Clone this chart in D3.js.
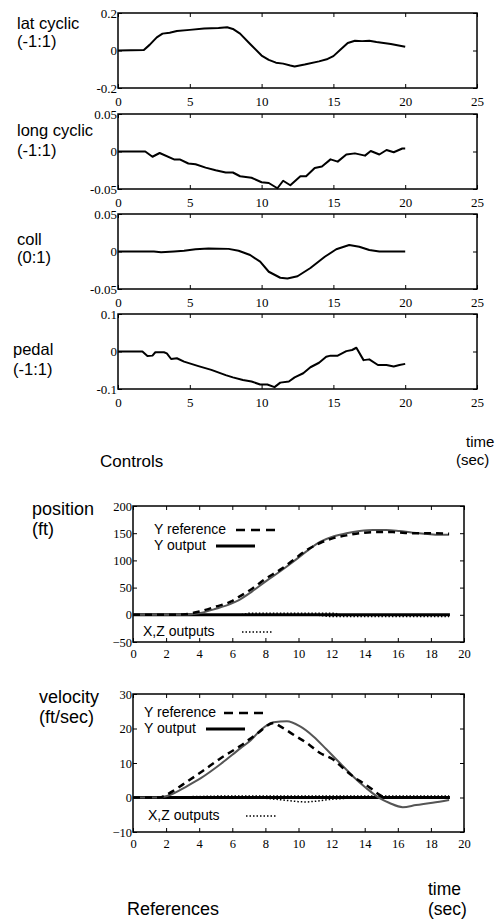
<!DOCTYPE html>
<html><head><meta charset="utf-8">
<script src="https://cdn.jsdelivr.net/npm/d3@7"></script>
<style>body{margin:0;background:#fff}svg{display:block}</style>
</head><body>
<script>
// ---------- DATA ----------
const ctrlTicksX = [0,5,10,15,20,25];
const latT = [0,1.8,2.2,2.7,3.1,3.6,4.1,5,6,7,7.6,8,8.5,9.2,10,10.5,11,11.5,12,12.3,13,14,14.6,15,15.5,16,16.5,17,17.5,18,19,20];
const latV = [0,0.003,0.03,0.07,0.09,0.095,0.104,0.11,0.117,0.12,0.124,0.115,0.09,0.035,-0.027,-0.05,-0.065,-0.07,-0.08,-0.085,-0.075,-0.058,-0.045,-0.03,0.005,0.04,0.052,0.05,0.052,0.045,0.035,0.02];
const longT = [0,1.9,2.4,2.9,3.9,4.3,4.9,5.4,6.1,6.8,7.5,8,8.5,8.9,9.3,10,10.5,11.1,11.5,12,12.7,13.1,13.7,14.2,14.8,15.3,15.9,16.5,17.2,17.6,18.2,18.7,19.2,19.8,20];
const longV = [0,0,-0.007,-0.002,-0.0105,-0.0105,-0.016,-0.017,-0.0215,-0.025,-0.028,-0.028,-0.033,-0.034,-0.035,-0.041,-0.042,-0.049,-0.039,-0.045,-0.033,-0.033,-0.022,-0.02,-0.0105,-0.0135,-0.004,-0.0025,-0.0055,0.0007,-0.004,0.002,-0.001,0.004,0.004];
const collT = [0,2.5,3,3.9,4.6,5.4,6.3,7.7,8.4,9.2,9.9,10.5,11.3,11.8,12.5,13.4,14.4,15.2,16.1,16.8,17.5,18.2,20];
const collV = [0,0,-0.001,0,0.001,0.003,0.004,0.0035,0.001,-0.0047,-0.0136,-0.027,-0.035,-0.036,-0.033,-0.022,-0.007,0.003,0.0087,0.0064,0.002,0,0];
const pedalT = [0,1.7,2.05,2.4,2.6,3.2,3.4,3.7,4.1,4.6,5.6,6.5,7.5,8,8.7,9.3,9.9,10.4,10.9,11.3,11.9,12.3,12.9,13.4,14,14.5,14.8,15.3,15.9,16.3,16.6,17.1,17.5,18.1,18.7,19.2,19.6,20];
const pedalV = [0,0,-0.012,-0.011,-0.002,-0.002,-0.005,-0.02,-0.018,-0.027,-0.039,-0.049,-0.063,-0.069,-0.076,-0.08,-0.088,-0.088,-0.095,-0.083,-0.08,-0.069,-0.058,-0.042,-0.03,-0.014,-0.011,-0.011,0.001,0.004,0.01,-0.023,-0.021,-0.036,-0.036,-0.04,-0.036,-0.033];

const refTicksX = [0,2,4,6,8,10,12,14,16,18,20];
const posTicksY = [-50,0,50,100,150,200];
const posRefT = [0,2,3,4,5,5.9,6.4,7.2,8,8.9,9.7,10.5,11.3,12.1,12.9,13.7,14.5,15.7,16.9,18,19.1];
const posRefV = [0,0,0.5,6,15,24,33,48,66,83,101,119,132,141,146,150,152,152,150,150,149];
const posOutT = [0,2,3,4,5,5.9,6.4,7.2,8,8.9,9.7,10.5,11.3,12.1,12.9,13.7,14.5,15.3,16.1,16.9,17.7,18.5,19.1];
const posOutV = [0,0,0.3,3,11,20,27,43,61,80,98,117,134,144,150,154,156,156,154,151,149,147,147];
const posXT = [0,6.5,7,12.2,12.5,19.1];
const posXV = [0,0,3,3,0,0];
const posZT = [0,11,11.8,19.1];
const posZV = [0,0,-3,-3];

const velTicksY = [-10,0,10,20,30];
const velRefT = [0,1.6,2.1,3.3,4.1,5.3,6.5,7.5,8.5,8.9,9.7,10.5,11.3,12.1,12.7,13.3,13.9,14.5,14.9,15.3,19.1];
const velRefV = [0,0,1,4.7,7.3,11.4,15,18.5,21.6,20.6,18.2,15.8,12.9,11,8.5,6.1,4.2,2.2,0.8,0,0];
const velOutT = [0,1.6,2.1,3.3,4.1,5.3,6.5,7.1,7.7,8.5,9.3,10.1,10.9,11.7,12.5,13.3,14.1,14.9,15.5,16.3,17.1,18.1,19.1];
const velOutV = [0,0,0.5,3.4,5.6,9.7,14.3,16.5,19.5,21.8,22.1,20.6,17.7,13.9,10,6.1,2.7,-0.2,-1.6,-2.8,-2.2,-1.5,-0.7];
const velXT = [0,7,8,9,10,10.5,11,12,13,14,19.1];
const velXV = [0,0,-0.2,-0.7,-1.2,-1.3,-1.1,-0.5,-0.2,0,0];
const velZT = [0,3,5,19.1];
const velZV = [0,0.2,0.4,0.4];

// ---------- DRAW ----------
const W = 497, H = 920;
const svg = d3.select("body").append("svg").attr("width", W).attr("height", H);
const SANS = "'Liberation Sans', Arial, sans-serif";
const SERIF = "'Liberation Serif', 'Times New Roman', serif";

function zip(t, v){ return t.map((d,i)=>[d, v[i]]); }

function frame(x, y, xt, yt, fs, padX, fmtY){
  const [x0,x1] = x.range(), [y0,y1] = y.range();
  const g = svg.append("g");
  const ax = (gen, tx, ty) => {
    const a = g.append("g").attr("transform", `translate(${tx},${ty})`).call(gen);
    a.select(".domain").remove();
    a.selectAll("line").attr("stroke","#000").attr("stroke-width",1);
    a.selectAll("text").attr("font-family", SERIF).attr("font-size", fs).attr("fill","#000");
    return a;
  };
  ax(d3.axisBottom(x).tickValues(xt).tickSizeInner(-4).tickSizeOuter(0).tickPadding(padX).tickFormat(d3.format("d")), 0, y0);
  ax(d3.axisTop(x).tickValues(xt).tickSizeInner(-4).tickSizeOuter(0).tickFormat(""), 0, y1);
  ax(d3.axisLeft(y).tickValues(yt).tickSizeInner(-4).tickSizeOuter(0).tickPadding(1).tickFormat(fmtY), x0, 0);
  ax(d3.axisRight(y).tickValues(yt).tickSizeInner(-4).tickSizeOuter(0).tickFormat(""), x1, 0);
  g.append("rect").attr("x", x0).attr("y", y1).attr("width", x1-x0).attr("height", y0-y1)
    .attr("fill","none").attr("stroke","#000").attr("stroke-width",1.5);
  return g;
}

function path(data, x, y, stroke, sw, dash, curve){
  const line = d3.line().x(d=>x(d[0])).y(d=>y(d[1])).curve(curve || d3.curveLinear);
  const p = svg.append("path").datum(data).attr("d", line).attr("fill","none")
    .attr("stroke", stroke).attr("stroke-width", sw).attr("stroke-linejoin","round");
  if (dash) p.attr("stroke-dasharray", dash);
  return p;
}

function label(txt, x, y, fs){
  svg.append("text").attr("x", x).attr("y", y).attr("font-family", SANS)
    .attr("font-size", fs).attr("fill","#000").text(txt);
}

// Controls
const cx = d3.scaleLinear().domain([0,25]).range([118,477]);
const ctrl = [
  {top:13, dom:[-0.2,0.2], ticks:[-0.2,0,0.2], fmt:d=>d===0?"0":String(d), t:latT, v:latV, l1:"lat cyclic", l2:"(-1:1)", lx:17, b1:29, b2:47},
  {top:114, dom:[-0.05,0.05], ticks:[-0.05,0,0.05], fmt:d=>d===0?"0":String(d), t:longT, v:longV, l1:"long cyclic", l2:"(-1:1)", lx:17, b1:136, b2:156},
  {top:214, dom:[-0.05,0.05], ticks:[-0.05,0,0.05], fmt:d=>d===0?"0":String(d), t:collT, v:collV, l1:"coll", l2:"(0:1)", lx:17, b1:245, b2:263},
  {top:314, dom:[-0.1,0.1], ticks:[-0.1,0,0.1], fmt:d=>d===0?"0":String(d), t:pedalT, v:pedalV, l1:"pedal", l2:"(-1:1)", lx:13, b1:355, b2:375}
];
ctrl.forEach(c=>{
  const y = d3.scaleLinear().domain(c.dom).range([c.top+75, c.top]);
  frame(cx, y, ctrlTicksX, c.ticks, 13, 9, c.fmt);
  path(zip(c.t,c.v), cx, y, "#000", 2);
  label(c.l1, c.lx, c.b1, 16.5);
  label(c.l2, c.lx, c.b2, 16.5);
});
label("time", 466, 447, 15);
label("(sec)", 456, 465, 15);
label("Controls", 100, 467, 17);

// References
const rx = d3.scaleLinear().domain([0,20]).range([133,464]);
function refPanel(yDom, yRange, yTicks, refT, refV, outT, outV, xT, xV, zT, zV, leg){
  const y = d3.scaleLinear().domain(yDom).range(yRange);
  frame(rx, y, refTicksX, yTicks, 12.5, 7, d3.format("d"));
  path([[0,0],[19.15,0]], rx, y, "#000", 3);
  path(zip(xT,xV), rx, y, "#000", 1.5, "1.5,2");
  path(zip(zT,zV), rx, y, "#000", 1.5, "1.5,2");
  path(zip(outT,outV), rx, y, "#555", 2, null, d3.curveMonotoneX);
  path(zip(refT,refV), rx, y, "#000", 2.5, "7,5", d3.curveMonotoneX);
  // legend
  label("Y reference", leg.x1, leg.b1, 14);
  svg.append("line").attr("x1",leg.d1[0]).attr("x2",leg.d1[1]).attr("y1",leg.b1-4).attr("y2",leg.b1-4)
    .attr("stroke","#000").attr("stroke-width",2.5).attr("stroke-dasharray","9,6");
  label("Y output", leg.x1, leg.b2, 14);
  svg.append("line").attr("x1",leg.d2[0]).attr("x2",leg.d2[1]).attr("y1",leg.b2-4).attr("y2",leg.b2-4)
    .attr("stroke","#000").attr("stroke-width",3);
  label("X,Z outputs", leg.x3, leg.b3, 14);
  svg.append("line").attr("x1",leg.d3[0]).attr("x2",leg.d3[1]).attr("y1",leg.b3-4).attr("y2",leg.b3-4)
    .attr("stroke","#000").attr("stroke-width",1.5).attr("stroke-dasharray","1.5,2");
}
refPanel([-50,200],[642,506],posTicksY,posRefT,posRefV,posOutT,posOutV,posXT,posXV,posZT,posZV,
  {x1:154,b1:534,d1:[236,279],b2:550,d2:[216,255],x3:143,b3:636,d3:[242,273]});
refPanel([-10,30],[832,694],velTicksY,velRefT,velRefV,velOutT,velOutV,velXT,velXV,velZT,velZV,
  {x1:144,b1:717,d1:[224,267],b2:733,d2:[206,245],x3:148,b3:820,d3:[246,277]});

label("position", 32, 515, 18);
label("(ft)", 32, 535, 18);
label("velocity", 39, 703, 18);
label("(ft/sec)", 39, 723, 18);
label("References", 127, 915, 18);
label("time", 428, 895, 17.5);
label("(sec)", 428, 915, 17.5);
</script>
</body></html>
